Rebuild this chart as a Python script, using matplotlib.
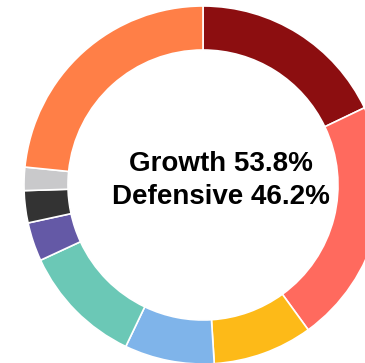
import matplotlib
matplotlib.use("Agg")
import matplotlib.pyplot as plt

# portfolio allocation, clockwise from 12 o'clock
categories = [
    "Australian Shares", "International Shares", "Property", "Infrastructure",
    "Fixed Interest", "Alternatives", "Cash", "Other", "Emerging Markets",
]
weights = [17.9, 22.1, 9.0, 8.1, 11.0, 3.5, 2.9, 2.1, 23.4]
colors = [
    "#8C0E10", "#FF6A5E", "#FDBA18", "#7FB4EA", "#6BC8B6",
    "#6459A6", "#333333", "#C9C9CB", "#FF7F47",
]
growth_pct = 53.8
defensive_pct = 46.2

W, H = 365, 363
fig = plt.figure(figsize=(W / 100, H / 100), dpi=100)
ax = fig.add_axes([0, 0, 1, 1])

cx, cy, radius = 203, 185, 179
ring = 44

ax.pie(
    weights,
    colors=colors,
    startangle=90,
    counterclock=False,
    radius=radius,
    center=(0, 0),
    wedgeprops=dict(width=ring, edgecolor="white", linewidth=1.2),
    frame=True,
)
ax.set_xlim(-cx, W - cx)
ax.set_ylim(-(H - cy), cy)
ax.set_aspect("auto")
ax.axis("off")

txt = dict(ha="center", va="center", fontsize=20, fontweight="bold",
           family="Liberation Sans", color="black")
ax.text(18, 21, f"Growth {growth_pct:.1f}%", **txt)
ax.text(18, -12, f"Defensive {defensive_pct:.1f}%", **txt)

fig.savefig("out.png", dpi=100)
